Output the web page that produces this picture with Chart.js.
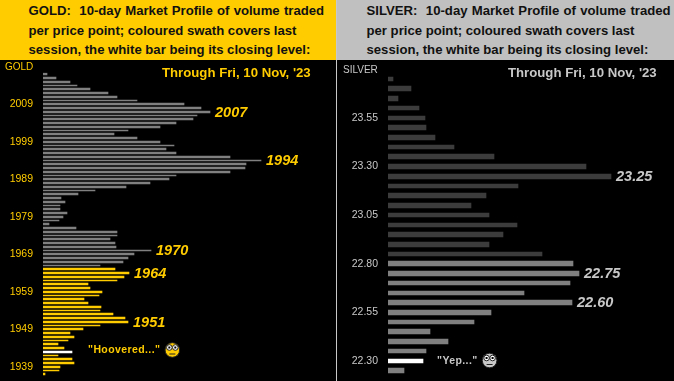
<!DOCTYPE html>
<html>
<head>
<meta charset="utf-8">
<script src="https://cdn.jsdelivr.net/npm/chart.js@4"></script>
<style>
html,body{margin:0;padding:0;background:#c8c8c8;width:674px;height:381px;overflow:hidden}
.panel{position:absolute;top:0;height:381px;background:#000}
.head{position:absolute;left:0;top:0;right:0;height:60px;font:bold 13.15px "Liberation Sans",Arial,sans-serif;color:#111;white-space:pre;line-height:19.5px;padding-top:1px;box-sizing:border-box}
.head span{word-spacing:.6px}
.panel canvas{position:absolute;left:0;top:60px}
#gold{left:0;width:336px}
#gold .head{background:#ffcc00;padding-left:28.5px}
#silver{left:337px;width:337px}
#silver .head{background:#c0c0c0;padding-left:29.5px}
</style>
</head>
<body>
<div class="panel" id="gold">
<div class="head"><span>GOLD:  10-day Market Profile of volume traded</span>
per price point; coloured swath covers last
session, the white bar being its closing level:</div>
<canvas id="goldChart" width="335" height="321"></canvas>
</div>
<div class="panel" id="silver">
<div class="head"><span>SILVER:  10-day Market Profile of volume traded</span>
per price point; coloured swath covers last
session, the white bar being its closing level:</div>
<canvas id="silverChart" width="337" height="321"></canvas>
</div>
<script>
// price points, top of the profile down to the bottom
const goldPrices = [2017,2016,2015,2014,2013,2012,2011,2010,2009,2008,2007,2006,2005,2004,2003,2002,2001,2000,1999,1998,1997,1996,1995,1994,1993,1992,1991,1990,1989,1988,1987,1986,1985,1984,1983,1982,1981,1980,1979,1978,1977,1976,1975,1974,1973,1972,1971,1970,1969,1968,1967,1966,1965,1964,1963,1962,1961,1960,1959,1958,1957,1956,1955,1954,1953,1952,1951,1950,1949,1948,1947,1946,1945,1944,1943,1942,1941,1940,1939,1938,1937];
const goldVolume = [4,13,27,34,47,65,74,94,141,158,167,154,150,133,117,85,71,94,117,131,123,133,187,218,203,202,187,133,126,107,83,52,35,18,22,17,17,24,20,16,6,33,74,74,67,72,73,108,91,85,80,57,72,86,81,74,45,47,59,56,41,45,58,57,70,82,85,57,40,27,31,25,15,21,29,15,29,31,17,16,2];
const goldTicks = [2009,1999,1989,1979,1969,1959,1949,1939];
const goldCallouts = [2007,1994,1970,1964,1951];
const goldSwathTop = 1965, goldClose = 1943;

const silverPrices = ['23.75','23.70','23.65','23.60','23.55','23.50','23.45','23.40','23.35','23.30','23.25','23.20','23.15','23.10','23.05','23.00','22.95','22.90','22.85','22.80','22.75','22.70','22.65','22.60','22.55','22.50','22.45','22.40','22.35','22.30','22.25'];
const silverVolume = [5,23,10,31,37,38,47,66,106,198,223,130,98,83,101,129,115,101,154,185,191,182,136,184,103,86,42,60,38,35,16];
const silverTicks = ['23.55','23.30','23.05','22.80','22.55','22.30'];
const silverCallouts = ['23.25','22.75','22.60'];
const silverSwathTop = 22.80, silverClose = 22.30;

// snap the bars to whole pixels, the original has no soft edges
const snapBars = {
  id: 'snapBars',
  beforeDatasetsDraw(chart){
    chart.getDatasetMeta(0).data.forEach((bar)=>{
      if(bar._snapped) return;
      const h = chart.options.plugins.snapBars.thickness;
      const top = Math.round(bar.y - h/2), bottom = Math.round(bar.y + h/2);
      bar.height = bottom - top;
      bar.y = top + bar.height/2;
      bar._snapped = true;
    });
  }
};

// everything written on top of the bars
const notes = {
  id: 'notes',
  afterDatasetsDraw(chart, args, o){
    const ctx = chart.ctx, bars = chart.getDatasetMeta(0).data, labels = chart.data.labels;
    ctx.save();
    ctx.fillStyle = o.color;
    ctx.textBaseline = 'middle';

    ctx.font = '10px "Liberation Sans"';
    ctx.textAlign = 'left';
    ctx.fillText(o.name, o.nameX, o.nameY);

    ctx.font = 'bold 13.2px "Liberation Sans"';
    ctx.fillText("Through Fri, 10 Nov, '23", o.dateX, 13.5);

    ctx.font = 'italic bold 14.5px "Liberation Sans"';
    o.callouts.forEach((c)=>{
      const bar = bars[labels.indexOf(c)];
      ctx.fillText(c, bar.x + 5, bar.y + 0.5);
    });

    const close = bars[o.closeIndex];
    ctx.font = 'bold 10.5px "Liberation Sans"';
    ctx.letterSpacing = '.4px';
    ctx.fillText(o.note, close.x + o.noteGap, close.y + o.noteLift);
    const w = ctx.measureText(o.note).width;
    drawFace(ctx, close.x + o.noteGap + w + 12, close.y + o.noteLift - 0.5, o.color);
    ctx.restore();
  }
};

function drawFace(ctx, x, y, color){
  ctx.fillStyle = color;
  ctx.beginPath(); ctx.arc(x, y, 7.3, 0, Math.PI*2); ctx.fill();
  ctx.strokeStyle = '#222';
  ctx.lineWidth = 1;
  ctx.beginPath(); ctx.arc(x, y, 7.3, 0, Math.PI*2); ctx.stroke();
  ctx.fillStyle = '#fff';
  [-3,3].forEach((d)=>{
    ctx.beginPath(); ctx.arc(x+d, y-2.5, 2.8, 0, Math.PI*2); ctx.fill(); ctx.stroke();
    ctx.fillStyle = '#000';
    ctx.fillRect(x+d-1, y-3.5, 2, 2);
    ctx.fillStyle = '#fff';
  });
  ctx.fillStyle = '#222';
  ctx.fillRect(x-3, y+3.5, 6, 1);
}

function drawProfile(id, prices, volume, ticks, axisWidth, areaWidth, pad, thick, barColor, o){
  return new Chart(document.getElementById(id), {
    type: 'bar',
    plugins: [snapBars, notes],
    data: {
      labels: prices,
      datasets: [{
        data: volume,
        backgroundColor: barColor,
        categoryPercentage: 1,
        barPercentage: 1
      }]
    },
    options: {
      indexAxis: 'y',
      responsive: false,
      animation: false,
      events: [],
      layout: {padding: {top: pad[0], bottom: pad[1], left: 0, right: 0}},
      scales: {
        x: {display: false, min: 0, max: areaWidth},
        y: {
          afterFit: (s)=>{ s.width = axisWidth; s.paddingTop = 0; s.paddingBottom = 0; },
          grid: {display: false, drawTicks: false},
          border: {display: false},
          ticks: {
            autoSkip: false,
            padding: 10,
            color: o.color,
            font: {family: '"Liberation Sans"', size: 10.5},
            callback(v){ const l = this.getLabelForValue(v); return ticks.includes(l) ? String(l) : ''; }
          }
        }
      },
      plugins: {
        legend: {display: false},
        tooltip: {enabled: false},
        snapBars: {thickness: thick},
        notes: o
      }
    }
  });
}

drawProfile('goldChart', goldPrices, goldVolume, goldTicks, 43, 292, [12.375, 4.875], 1.7, (c)=>{
  const p = goldPrices[c.dataIndex];
  if(p === goldClose) return '#ffffff';
  return p <= goldSwathTop ? '#ffcc00' : '#808080';
}, {
  color: '#ffcc00', name: 'GOLD', nameX: 5, nameY: 7, dateX: 162, callouts: goldCallouts,
  closeIndex: goldPrices.indexOf(goldClose), note: '"Hoovered..."', noteGap: 16, noteLift: -1.5
});

drawProfile('silverChart', silverPrices, silverVolume, silverTicks, 51, 286, [14.16, 5.52], 4.6, (c)=>{
  const p = parseFloat(silverPrices[c.dataIndex]);
  if(p === silverClose) return '#ffffff';
  return p <= silverSwathTop ? '#808080' : '#3c3c3c';
}, {
  color: '#c8c8c8', name: 'SILVER', nameX: 6, nameY: 10.5, dateX: 171, callouts: silverCallouts,
  closeIndex: silverPrices.indexOf(silverClose.toFixed(2)), note: '"Yep..."', noteGap: 14, noteLift: 0
});
</script>
</body>
</html>
